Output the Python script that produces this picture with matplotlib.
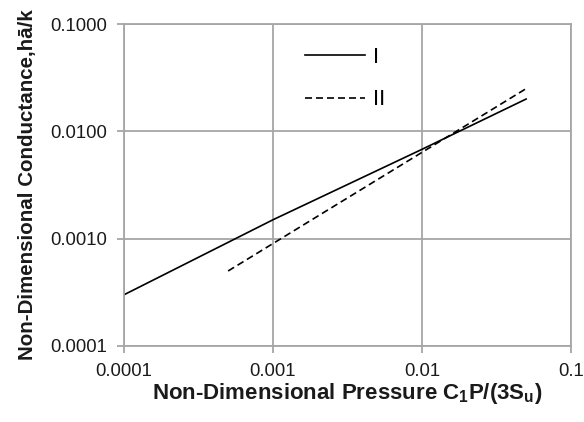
import matplotlib
matplotlib.use('Agg')
import matplotlib.pyplot as plt
from matplotlib.ticker import FixedLocator, FixedFormatter, NullLocator

plt.rcParams['font.family'] = ['Liberation Sans', 'DejaVu Sans']
plt.rcParams['mathtext.fontset'] = 'custom'
plt.rcParams['mathtext.rm'] = 'Liberation Sans:bold'
plt.rcParams['mathtext.bf'] = 'Liberation Sans:bold'

# curve I
x_one = [0.0001, 0.0006, 0.001, 0.01, 0.05]
y_one = [0.0003, 0.00105, 0.0015, 0.0068, 0.02]
# curve II
x_two = [0.0005, 0.05]
y_two = [0.0005, 0.025]

x_ticks = [0.0001, 0.001, 0.01, 0.1]
x_tick_labels = ['0.0001', '0.001', '0.01', '0.1']
y_ticks = [0.0001, 0.001, 0.01, 0.1]
y_tick_labels = ['0.0001', '0.0010', '0.0100', '0.1000']

GRAY = '#a6a6a6'

fig = plt.figure(figsize=(5.84, 4.22), dpi=100)
ax = fig.add_axes([0.2123, 0.1801, 0.7654, 0.763])

ax.plot(x_one, y_one, color='black', lw=1.2, label='I')
line2, = ax.plot(x_two, y_two, color='black', lw=1.2, label='II')
line2.set_dashes([4.2, 2.4])

ax.set_xscale('log')
ax.set_yscale('log')
ax.set_xlim(0.0001, 0.1)
ax.set_ylim(0.0001, 0.1)

ax.xaxis.set_major_locator(FixedLocator(x_ticks))
ax.xaxis.set_major_formatter(FixedFormatter(x_tick_labels))
ax.xaxis.set_minor_locator(NullLocator())
ax.yaxis.set_major_locator(FixedLocator(y_ticks))
ax.yaxis.set_major_formatter(FixedFormatter(y_tick_labels))
ax.yaxis.set_minor_locator(NullLocator())

ax.grid(True, color=GRAY, lw=1.3)
ax.set_axisbelow(True)
for s in ax.spines.values():
    s.set_color(GRAY)
    s.set_linewidth(1.3)
ax.tick_params(axis='both', which='major', direction='out', length=5, width=1.3,
               color=GRAY, labelsize=13.3, labelcolor='#1a1a1a', pad=7)

ax.set_xlabel(r'Non-Dimensional Pressure C$_\mathbf{1}$P/(3S$_\mathbf{u}$)',
              fontsize=16, fontweight='bold', color='#1a1a1a', labelpad=1)
ax.set_ylabel('Non-Dimensional Conductance,hā/k',
              fontsize=14.8, fontweight='bold', color='#1a1a1a', labelpad=10)

ax.legend(loc='upper left', bbox_to_anchor=(0.36, 0.99), frameon=False,
          fontsize=16, handlelength=2.7, handletextpad=0.35, labelspacing=0.95)

fig.savefig('out.png', dpi=100)
